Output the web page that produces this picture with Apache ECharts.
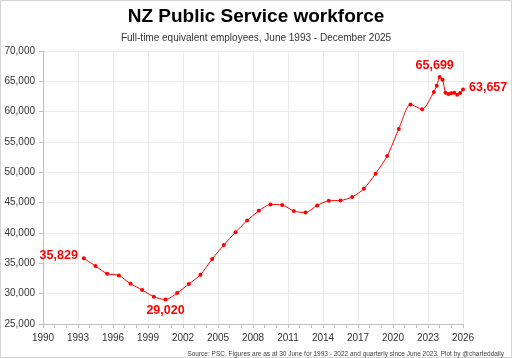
<!DOCTYPE html>
<html>
<head>
<meta charset="utf-8">
<script src="https://cdn.jsdelivr.net/npm/echarts@6/dist/echarts.min.js"></script>
<style>
html,body{margin:0;padding:0;background:#fff;}
#chart{width:512px;height:358px;}
</style>
</head>
<body>
<div id="chart"></div>
<script>
// ---- Data ----
const periods = [
  "1993-06","1994-06","1995-06","1996-06","1997-06","1998-06","1999-06","2000-06",
  "2001-06","2002-06","2003-06","2004-06","2005-06","2006-06","2007-06","2008-06",
  "2009-06","2010-06","2011-06","2012-06","2013-06","2014-06","2015-06","2016-06",
  "2017-06","2018-06","2019-06","2020-06","2021-06","2022-06",
  "2023-06","2023-09","2023-12","2024-03","2024-06","2024-09","2024-12",
  "2025-03","2025-06","2025-09","2025-12"
];
const fteValues = [
  35829,34560,33290,33010,31640,30600,29500,29020,
  30110,31590,33130,35710,38020,40130,42050,43650,
  44710,44630,43620,43370,44550,45320,45370,45930,
  47280,49770,52690,57160,61200,60400,
  63260,64280,65699,65260,63100,62920,63020,
  63130,62800,63080,63657
];
const xTickYears = [1990,1993,1996,1999,2002,2005,2008,2011,2014,2017,2020,2023,2026];
const yTickValues = [25000,30000,35000,40000,45000,50000,55000,60000,65000,70000];
const labelledPeriods = ["1993-06","2000-06","2023-12","2025-12"];

const titleText = "NZ Public Service workforce";
const subtitleText = "Full-time equivalent employees, June 1993 - December 2025";
const sourceText = "Source: PSC. Figures are as at 30 June for 1993 - 2022 and quarterly since June 2023. Plot by @charteddaily";

// ---- Build ----
function toYear(p){ const [y,m] = p.split("-").map(Number); return y + m/12; }
function fmt(v){ return v.toLocaleString("en-US"); }

const labelStyles = {
  "1993-06": {position:"left", distance:4, offset:[0,-3]},
  "2000-06": {position:"bottom", distance:2, offset:[0,0]},
  "2023-12": {position:"top", distance:3, offset:[-5,0]},
  "2025-12": {position:"right", distance:4, offset:[0,-2]}
};

const fam = "'Liberation Sans', Arial, sans-serif";

const seriesData = periods.map((p,i)=>{
  const item = {value:[toYear(p), fteValues[i]]};
  if (labelledPeriods.includes(p)) {
    const s = labelStyles[p];
    item.label = {show:true, position:s.position, distance:s.distance, offset:s.offset,
      formatter: fmt(fteValues[i]), color:"#ff0000", fontSize:12.5, fontWeight:"bold",
      fontFamily:fam};
  }
  return item;
});

const chart = echarts.init(document.getElementById("chart"), null, {renderer:"canvas"});
chart.setOption({
  animation:false,
  backgroundColor:"#ffffff",
  title:[
    {text:titleText, left:"center", top:2,
     textStyle:{fontFamily:fam, fontWeight:"bold", fontSize:19, color:"#000"}},
    {text:subtitleText, left:"center", top:28,
     textStyle:{fontFamily:fam, fontWeight:"normal", fontSize:10, color:"#333"}},
    {text:sourceText, right:3, top:346,
     textStyle:{fontFamily:fam, fontWeight:"normal", fontSize:6.5, color:"#404040"}}
  ],
  graphic:[{type:"rect", shape:{x:0.5,y:0.5,width:511,height:357},
    style:{fill:null, stroke:"#d4d4d4", lineWidth:1}, silent:true}],
  grid:{left:43, right:49, top:51, bottom:34, containLabel:false},
  xAxis:{
    type:"value", min:xTickYears[0], max:xTickYears[xTickYears.length-1], interval:3,
    axisLine:{show:true, lineStyle:{color:"#bfbfbf", width:1}},
    axisTick:{show:true, length:4, lineStyle:{color:"#bfbfbf"}},
    minorTick:{show:true, splitNumber:3, length:4, lineStyle:{color:"#bfbfbf"}},
    splitLine:{show:true, lineStyle:{color:"#ebebeb", width:1}},
    axisLabel:{margin:9, fontFamily:fam, fontSize:10, color:"#333",
      formatter:v=>String(v)}
  },
  yAxis:{
    type:"value", min:yTickValues[0], max:yTickValues[yTickValues.length-1], interval:5000,
    axisLine:{show:true, lineStyle:{color:"#bfbfbf", width:1}},
    axisTick:{show:true, length:4, lineStyle:{color:"#bfbfbf"}},
    splitLine:{show:true, lineStyle:{color:"#ebebeb", width:1}},
    axisLabel:{margin:8, fontFamily:fam, fontSize:10, color:"#333",
      formatter:v=>fmt(v)}
  },
  series:[{
    type:"line", data:seriesData, smooth:0.25,
    symbol:"circle", symbolSize:4, showAllSymbol:true,
    lineStyle:{color:"#ff0000", width:1},
    itemStyle:{color:"#ff0000"},
    label:{show:false},
    z:5
  }]
});
</script>
</body>
</html>
